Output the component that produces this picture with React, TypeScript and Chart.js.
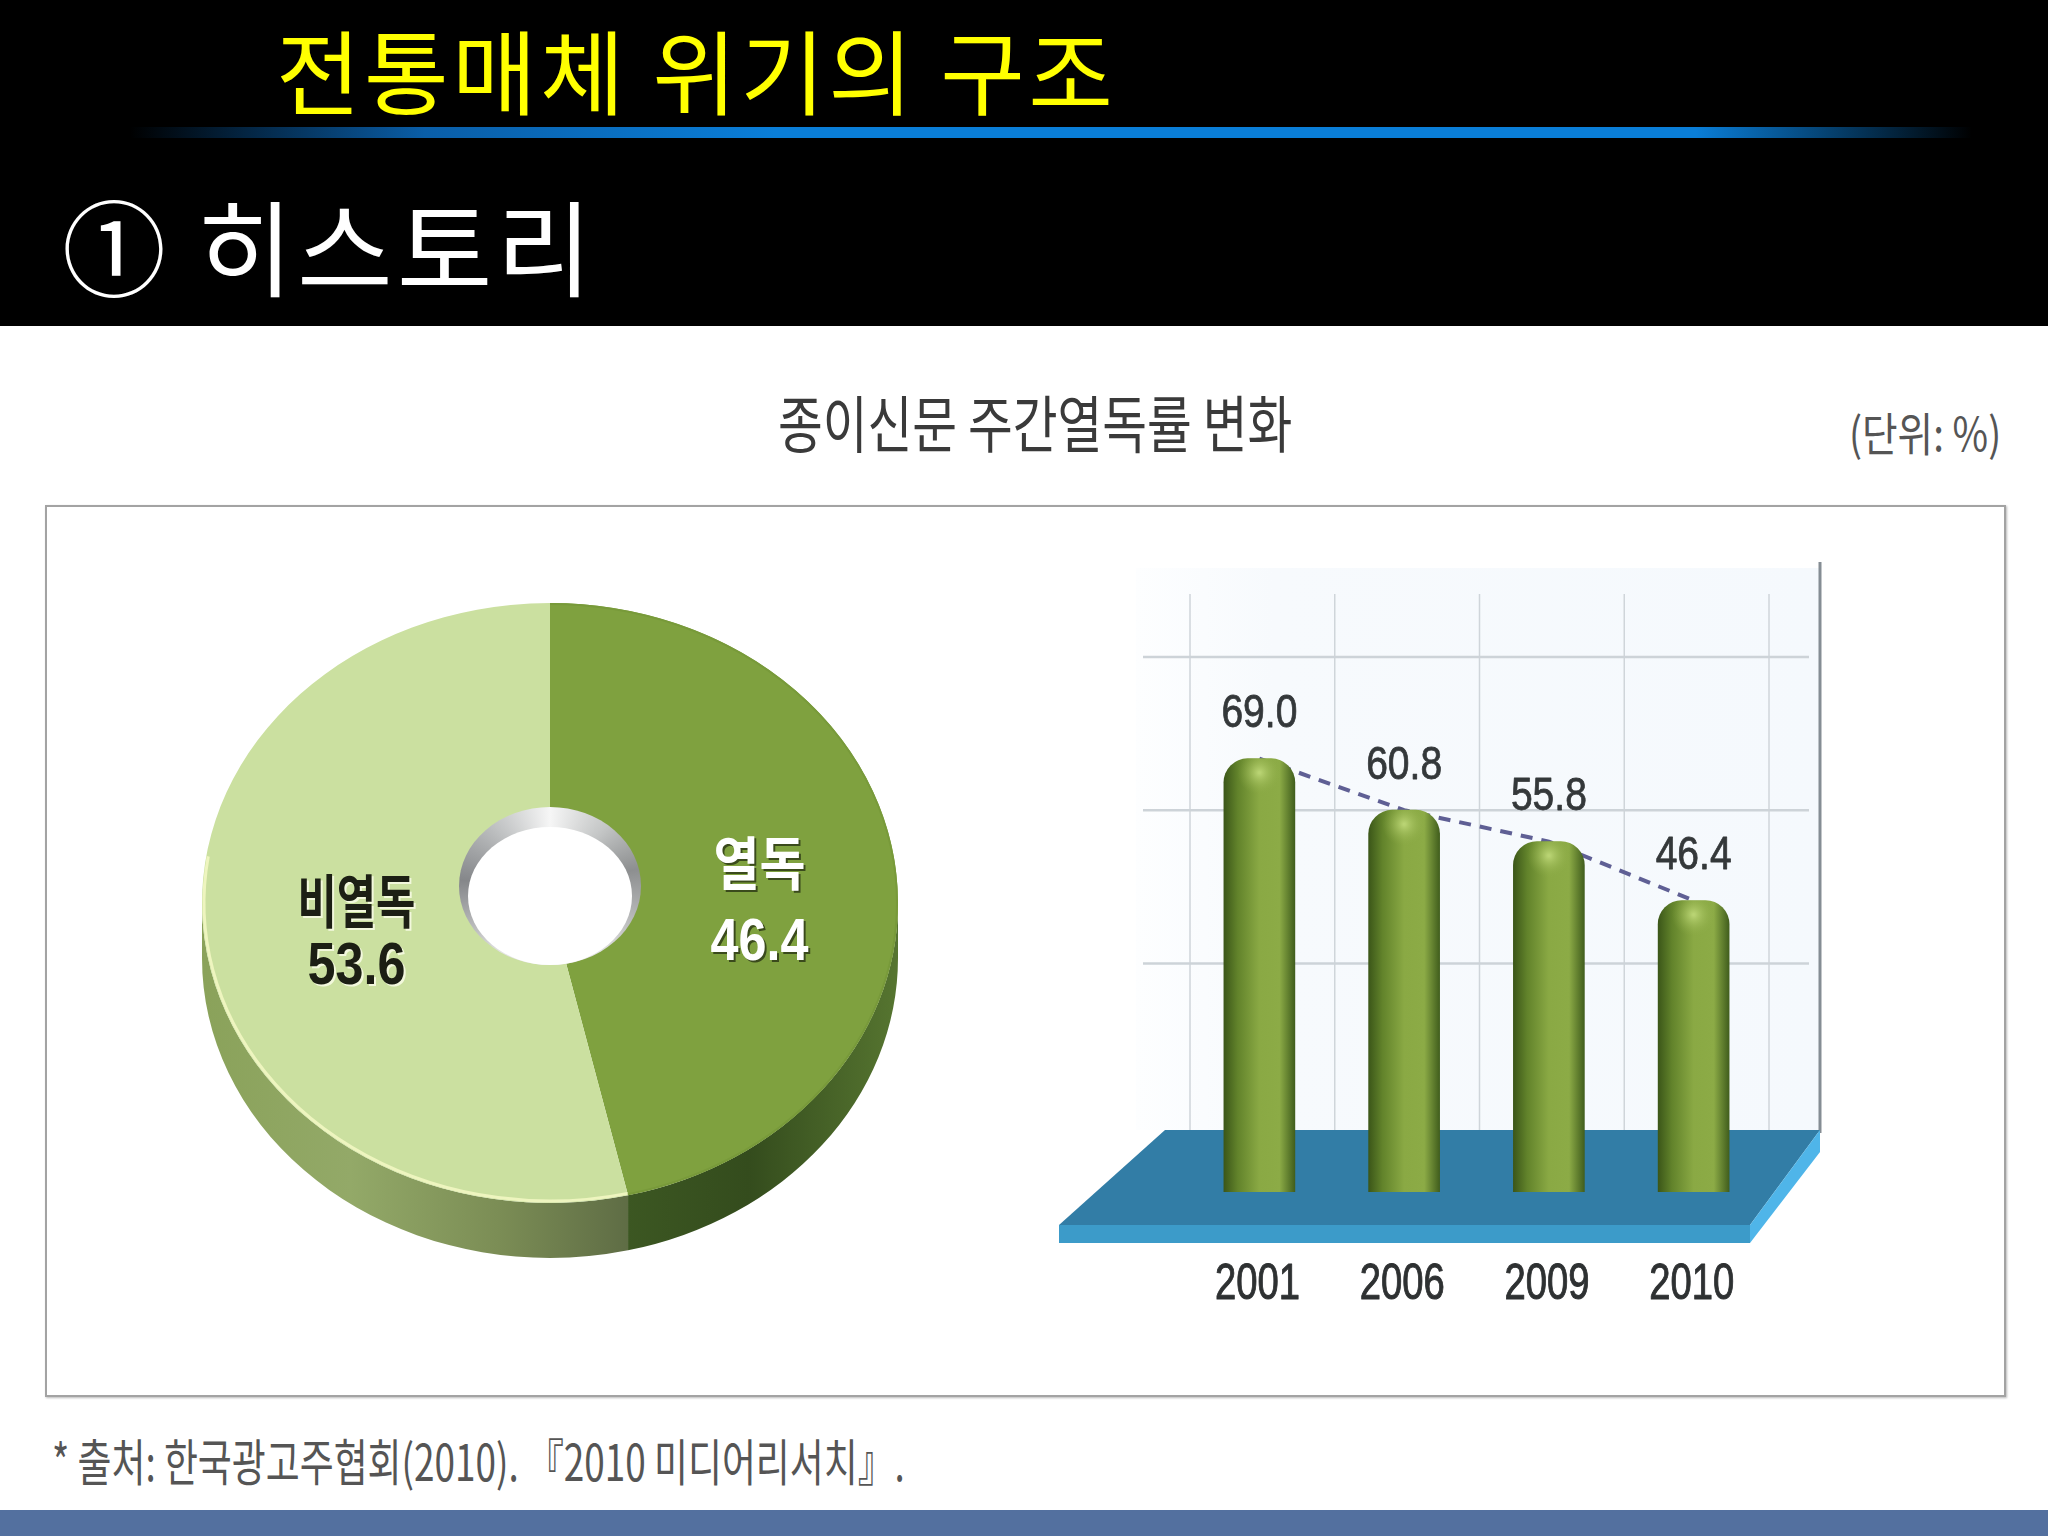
import React, { useEffect, useRef } from 'react';
import { Chart, registerables } from 'chart.js';

Chart.register(...registerables);

const sliceNames = ['열독', '비열독'];
const sliceValues = [46.4, 53.6];
const sliceColors = ['#7fa13f', '#cbe0a0'];

const years = ['2001', '2006', '2009', '2010'];
const readRates = [69.0, 60.8, 55.8, 46.4];
const wallLines = [36.4, 60.8, 85.2];

const FONT = '"Noto Sans CJK KR", "Noto Sans", sans-serif';
const DIGITS = '"Liberation Sans", sans-serif';

const SQUASH = 0.862;
const DEPTH = 55;

const pieLook = {
  id: 'pieLook',
  beforeDatasetsDraw(chart: any) {
    const ctx = chart.ctx;
    const arcs = chart.getDatasetMeta(0).data;
    const { x, y, outerRadius: r } = arcs[0];
    const ry = r * SQUASH;
    const sides = [
      [['0', '#3c5722'], ['0.45', '#344c1d'], ['1', '#567530']],
      [['0', '#8aa25a'], ['0.35', '#93a968'], ['0.7', '#7b8d55'], ['1', '#5f6d45']],
    ];
    arcs.forEach((arc: any, i: number) => {
      const from = Math.max(arc.startAngle, 0);
      const to = Math.min(arc.endAngle, Math.PI);
      if (to <= from) return;
      const grad = ctx.createLinearGradient(...(i === 0 ? [x + r * 0.22, 0, x + r, 0] : [x - r, 0, x + r * 0.22, 0]));
      sides[i].forEach((s) => grad.addColorStop(Number(s[0]), s[1]));
      ctx.beginPath();
      ctx.ellipse(x, y, r, ry, 0, from, to);
      ctx.ellipse(x, y + DEPTH, r, ry, 0, to, from, true);
      ctx.closePath();
      ctx.fillStyle = grad;
      ctx.fill();
    });
    ctx.save();
    ctx.translate(x, y);
    ctx.scale(1, SQUASH);
    ctx.translate(-x, -y);
  },
  afterDatasetsDraw(chart: any) {
    const ctx = chart.ctx;
    ctx.restore();
    const arcs = chart.getDatasetMeta(0).data;
    const { x, y, outerRadius: r } = arcs[0];
    const ry = r * SQUASH;

    // pale rim on the lower left, darker on the right
    ctx.lineWidth = 3;
    ctx.strokeStyle = '#eef5bf';
    ctx.beginPath();
    ctx.ellipse(x, y, r - 2, ry - 2, 0, arcs[1].startAngle, Math.PI * 1.05);
    ctx.stroke();
    ctx.lineWidth = 2;
    ctx.strokeStyle = '#789a3a';
    ctx.beginPath();
    ctx.ellipse(x, y, r - 1, ry - 1, 0, arcs[0].startAngle, arcs[0].endAngle);
    ctx.stroke();

    // the hole with its inner wall
    const holeY = y - 17;
    const wall = ctx.createConicGradient(-Math.PI / 2, x, holeY);
    wall.addColorStop(0, '#f6f6f6');
    wall.addColorStop(0.12, '#c4c6c6');
    wall.addColorStop(0.22, '#8d8f90');
    wall.addColorStop(0.4, '#e4e4e4');
    wall.addColorStop(0.6, '#e4e4e4');
    wall.addColorStop(0.76, '#85878a');
    wall.addColorStop(0.88, '#bfc1c2');
    wall.addColorStop(1, '#f6f6f6');
    ctx.fillStyle = wall;
    ctx.beginPath();
    ctx.ellipse(x, holeY, 91, 79, 0, 0, Math.PI * 2);
    ctx.fill();
    ctx.fillStyle = '#ffffff';
    ctx.beginPath();
    ctx.ellipse(x, y - 7, 82, 69, 0, 0, Math.PI * 2);
    ctx.fill();

    // labels on the slices
    ctx.textAlign = 'center';
    ctx.textBaseline = 'middle';
    arcs.forEach((arc: any, i: number) => {
      const mid = (arc.startAngle + arc.endAngle) / 2;
      const lx = x + Math.cos(mid) * r * 0.58 + (i === 0 ? 9 : 7);
      const ly = y + Math.sin(mid) * ry * 0.58 + 6;
      const ink = i === 0 ? '#ffffff' : '#1c1f14';
      const halo = i === 0 ? '#3a4a1c' : '#f2f8dc';
      const put = (text: string, font: string, ty: number, maxW: number) => {
        ctx.font = font;
        ctx.fillStyle = halo;
        ctx.fillText(text, lx + 2, ty + 2, maxW);
        ctx.fillStyle = ink;
        ctx.fillText(text, lx, ty, maxW);
      };
      put(sliceNames[i], `bold 58px ${FONT}`, ly - (i === 0 ? 26 : 28), i === 0 ? 92 : 118);
      put(sliceValues[i].toFixed(1), `bold 60px ${DIGITS}`, ly + (i === 0 ? 54 : 39), 98);
    });
  },
};

const stageLook = {
  id: 'stageLook',
  beforeDatasetsDraw(chart: any) {
    const ctx = chart.ctx;
    const { x: xs, y: ys } = chart.scales;
    const { left, right, bottom } = chart.chartArea;
    const floorY = bottom - 62;
    const wallTop = ys.top + 4;

    // back wall
    const wallFill = ctx.createLinearGradient(left - 51, 0, right + 54, 0);
    wallFill.addColorStop(0, '#fdfeff');
    wallFill.addColorStop(0.2, '#f7fafd');
    wallFill.addColorStop(1, '#f5f9fd');
    ctx.fillStyle = wallFill;
    ctx.fillRect(left - 51, wallTop, right + 54 - (left - 51), floorY - wallTop);

    ctx.strokeStyle = '#cfd5da';
    ctx.lineWidth = 1.5;
    for (let i = 0; i <= years.length; i++) {
      const px = xs.getPixelForTick(0) + (i - 0.5) * (xs.getPixelForTick(1) - xs.getPixelForTick(0)) + 3;
      ctx.beginPath();
      ctx.moveTo(px, wallTop + 26);
      ctx.lineTo(px, floorY);
      ctx.stroke();
    }
    ctx.strokeStyle = '#cdd3d8';
    ctx.lineWidth = 2.5;
    wallLines.forEach((v) => {
      const py = ys.getPixelForValue(v);
      ctx.beginPath();
      ctx.moveTo(left - 44, py);
      ctx.lineTo(right + 43, py);
      ctx.stroke();
    });

    // right edge of the wall
    ctx.strokeStyle = '#858d94';
    ctx.lineWidth = 3;
    ctx.beginPath();
    ctx.moveTo(right + 54, wallTop - 6);
    ctx.lineTo(right + 54, floorY + 3);
    ctx.stroke();

    // floor plate
    const fx0 = left - 128;
    const fx1 = right - 16;
    const fy = bottom + 33;
    ctx.fillStyle = '#327da6';
    ctx.beginPath();
    ctx.moveTo(left - 22, floorY);
    ctx.lineTo(right + 54, floorY);
    ctx.lineTo(fx1, fy);
    ctx.lineTo(fx0, fy);
    ctx.closePath();
    ctx.fill();
    ctx.fillStyle = '#3c9bc9';
    ctx.fillRect(fx0, fy, fx1 - fx0, 18);
    ctx.fillStyle = '#4fb5e9';
    ctx.beginPath();
    ctx.moveTo(right + 54, floorY);
    ctx.lineTo(right + 54, floorY + 22);
    ctx.lineTo(fx1, fy + 18);
    ctx.lineTo(fx1, fy);
    ctx.closePath();
    ctx.fill();
  },
  afterDatasetsDraw(chart: any) {
    const ctx = chart.ctx;
    const xs = chart.scales.x;
    const bars = chart.getDatasetMeta(0).data;
    ctx.textAlign = 'center';
    ctx.textBaseline = 'middle';
    ctx.lineJoin = 'round';
    bars.forEach((bar: any, i: number) => {
      // highlight on the round top of each column
      const spot = ctx.createRadialGradient(bar.x, bar.y + 14, 1, bar.x, bar.y + 14, 22);
      spot.addColorStop(0, 'rgba(190,216,120,0.9)');
      spot.addColorStop(1, 'rgba(140,170,70,0)');
      ctx.fillStyle = spot;
      ctx.fillRect(bar.x - 22, bar.y, 44, 36);

      // value above the column, narrowed the way the source set it
      ctx.font = `46px ${DIGITS}`;
      ctx.fillStyle = '#34383a';
      ctx.strokeStyle = '#34383a';
      ctx.lineWidth = 0.8;
      const value = readRates[i].toFixed(1);
      ctx.fillText(value, bar.x, bar.y - 44, 76);
      ctx.strokeText(value, bar.x, bar.y - 44, 76);

      // year under the floor plate
      ctx.font = `50px ${DIGITS}`;
      ctx.fillStyle = '#2e3132';
      ctx.strokeStyle = '#2e3132';
      ctx.lineWidth = 1;
      const year = xs.getLabelForValue(i);
      ctx.fillText(year, bar.x - 2, xs.top + 93, 85);
      ctx.strokeText(year, bar.x - 2, xs.top + 93, 85);
    });
  },
};

function columnFill(c: any) {
  const chart = c.chart;
  if (!chart.chartArea || c.dataIndex === undefined) return '#7f9f3c';
  const mid = chart.scales.x.getPixelForValue(c.dataIndex);
  const g = chart.ctx.createLinearGradient(mid - 36, 0, mid + 36, 0);
  g.addColorStop(0, '#3a5518');
  g.addColorStop(0.2, '#62832b');
  g.addColorStop(0.5, '#8aa944');
  g.addColorStop(0.78, '#8cab46');
  g.addColorStop(1, '#3f5c1c');
  return g;
}

export default function App() {
  const pieRef = useRef<HTMLCanvasElement | null>(null);
  const barRef = useRef<HTMLCanvasElement | null>(null);

  useEffect(() => {
    if (!pieRef.current || !barRef.current) return;

    const pie = new Chart(pieRef.current, {
      type: 'doughnut',
      data: {
        labels: sliceNames,
        datasets: [
          {
            data: sliceValues,
            backgroundColor: sliceColors,
            borderWidth: 0,
            clip: false,
          } as any,
        ],
      },
      options: {
        animation: false,
        responsive: false,
        devicePixelRatio: 1,
        events: [],
        cutout: '20%',
        layout: { padding: 12 },
        plugins: { legend: { display: false }, tooltip: { enabled: false }, title: { display: false } },
      },
      plugins: [pieLook],
    });

    const bars = new Chart(barRef.current, {
      type: 'bar',
      data: {
        labels: years,
        datasets: [
          {
            type: 'bar',
            data: readRates,
            backgroundColor: columnFill,
            barThickness: 71,
            borderSkipped: 'bottom',
            borderRadius: { topLeft: 24, topRight: 24, bottomLeft: 0, bottomRight: 0 },
            order: 1,
          } as any,
          {
            type: 'line',
            data: readRates,
            borderColor: '#5f5f94',
            borderWidth: 4,
            borderDash: [12, 9],
            pointRadius: 0,
            tension: 0,
            order: 2,
          } as any,
        ],
      },
      options: {
        animation: false,
        responsive: false,
        devicePixelRatio: 1,
        events: [],
        layout: { padding: { left: 147, right: 74, top: 24, bottom: 0 } },
        plugins: { legend: { display: false }, tooltip: { enabled: false }, title: { display: false } },
        scales: {
          x: {
            grid: { display: false },
            border: { display: false },
            afterFit(scale: any) {
              scale.height = 128;
            },
            ticks: { display: false },
          },
          y: { display: false, min: 0, max: 100 },
        },
      },
      plugins: [stageLook],
    });

    return () => {
      pie.destroy();
      bars.destroy();
    };
  }, []);

  const squeezed = (scale: number): React.CSSProperties => ({
    position: 'absolute',
    whiteSpace: 'nowrap',
    transform: `scaleX(${scale})`,
    transformOrigin: 'left center',
    lineHeight: 1,
    fontFamily: FONT,
  });

  return (
    <div style={{ position: 'absolute', left: 0, top: 0, width: 2048, height: 1536, background: '#fff', overflow: 'hidden' }}>
      <div style={{ position: 'absolute', left: 0, top: 0, width: 2048, height: 326, background: '#000' }} />
      <div style={{ ...squeezed(1), left: 276, top: 22, fontSize: 92, letterSpacing: 3.4, color: '#ffff00' }}>전통매체 위기의 구조</div>
      <div
        style={{
          position: 'absolute',
          left: 130,
          top: 127,
          width: 1842,
          height: 11,
          background:
            'linear-gradient(90deg, rgba(10,125,216,0) 0%, #0a5ea8 16%, #0a7ed8 35%, #0a7ed8 85%, rgba(10,125,216,0) 100%)',
        }}
      />
      <div style={{ ...squeezed(1), left: 62, top: 192, fontSize: 104, letterSpacing: 4, color: '#fff' }}>① 히스토리</div>

      <div style={{ ...squeezed(0.785), left: 778, top: 390, fontSize: 62, color: '#3a3a3a' }}>종이신문 주간열독률 변화</div>
      <div style={{ ...squeezed(0.84), left: 1849, top: 408, fontSize: 46, color: '#555' }}>(단위: %)</div>

      <div
        style={{
          position: 'absolute',
          left: 45,
          top: 505,
          width: 1961,
          height: 892,
          boxSizing: 'border-box',
          border: '2px solid #a3a3a3',
          boxShadow: '1px 1px 2px #bbb',
          background: '#fff',
        }}
      />
      <canvas ref={pieRef} width={720} height={720} style={{ position: 'absolute', left: 190, top: 543 }} />
      <canvas ref={barRef} width={800} height={780} style={{ position: 'absolute', left: 1040, top: 540 }} />

      <div style={{ ...squeezed(0.738), left: 52, top: 1434, fontSize: 50, color: '#555' }}>* 출처: 한국광고주협회(2010). 『2010 미디어리서치』.</div>
      <div style={{ position: 'absolute', left: 0, top: 1510, width: 2048, height: 26, background: '#53709f' }} />
    </div>
  );
}
